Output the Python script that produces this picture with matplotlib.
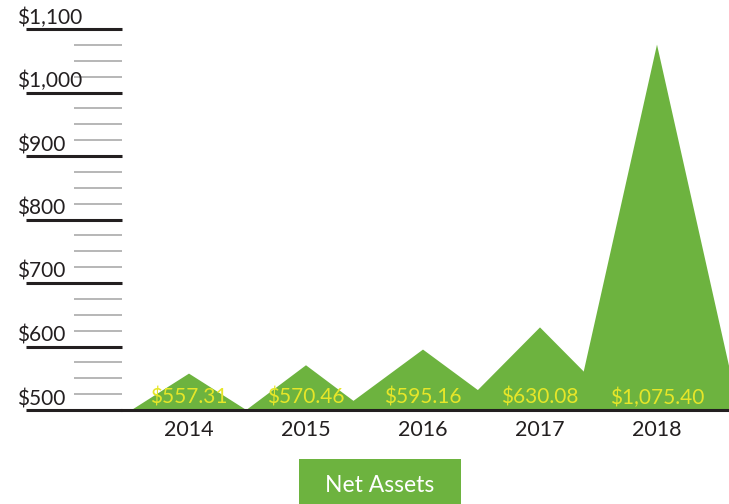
import matplotlib
matplotlib.use("Agg")
import matplotlib.pyplot as plt
from matplotlib import transforms
from matplotlib.ticker import MultipleLocator
from matplotlib.patches import Rectangle

# ---- data ----
years = ["2014", "2015", "2016", "2017", "2018"]
net_assets = [557.31, 570.46, 595.16, 630.08, 1075.40]
y_major_ticks = [500, 600, 700, 800, 900, 1000, 1100]
legend_label = "Net Assets"

# ---- style ----
GREEN = "#6db33f"
YELLOW = "#e6e629"
DARK = "#231f20"
GRAY = "#a3a3a3"
FONT = "Lato"
half_widths = [0.49, 0.51, 0.70, 0.70, 0.70]  # triangle half-base (category units)

W, H, DPI = 729, 504, 100
fig = plt.figure(figsize=(W / DPI, H / DPI), dpi=DPI)
plt.rcParams["font.family"] = [FONT, "DejaVu Sans"]

ax = fig.add_axes([122 / W, (H - 410) / H, (W - 122) / W, (410 - 29) / H])
ax.set_ylim(500, 1100)
ax.set_xlim((122 - 189) / 117, (729 - 189) / 117)

# mountains
for i, v in enumerate(net_assets):
    hw = half_widths[i]
    ax.fill([i - hw, i, i + hw], [500, v, 500], color=GREEN, lw=0, zorder=2)

# spines
for s in ["left", "right", "top"]:
    ax.spines[s].set_visible(False)
ax.spines["bottom"].set_color(DARK)
ax.spines["bottom"].set_linewidth(2.2)
ax.spines["bottom"].set_zorder(5)

# y ticks
ax.yaxis.set_major_locator(plt.FixedLocator(y_major_ticks))
ax.yaxis.set_minor_locator(MultipleLocator(25))
ax.tick_params(axis="y", which="major", direction="out", length=69, width=2.2,
               color=DARK, labelleft=False)
ax.tick_params(axis="y", which="minor", direction="out", length=34.5, width=1.1,
               color=GRAY, labelleft=False)

# y labels (above the major tick lines)
ytrans = transforms.blended_transform_factory(fig.transFigure, ax.transData)
ytrans = transforms.offset_copy(ytrans, fig=fig, y=5, units="dots")
for t in y_major_ticks:
    ax.text(17 / W, t, f"${t:,}", transform=ytrans, ha="left", va="baseline",
            fontsize=15, color=DARK, clip_on=False)

# x labels
ax.set_xticks(range(len(years)))
ax.set_xticklabels(years, fontsize=15.5, color=DARK)
ax.tick_params(axis="x", length=0, pad=7)

# value labels
vtrans = transforms.offset_copy(ax.transData, fig=fig, y=6, units="dots")
for i, v in enumerate(net_assets):
    ax.text(i, 500, f"${v:,.2f}", transform=vtrans, ha="center", va="baseline",
            fontsize=15, color=YELLOW, zorder=6)

# legend box
fig.patches.append(Rectangle((299 / W, 0), (461 - 299) / W, (H - 459) / H,
                             transform=fig.transFigure, color=GREEN, lw=0))
fig.text(380 / W, (H - 486) / H, legend_label, ha="center", va="center",
         fontsize=16.5, color="white")

fig.savefig("out.png", dpi=DPI)
